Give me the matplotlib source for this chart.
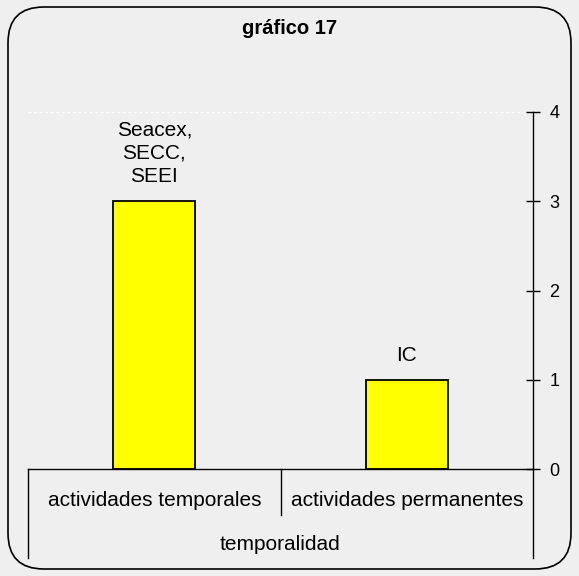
import matplotlib.pyplot as plt
from matplotlib.patches import FancyBboxPatch

plt.rcParams['font.family'] = ['Liberation Sans', 'DejaVu Sans']

categorias = ["actividades temporales", "actividades permanentes"]
valores = [3, 1]
etiquetas = ["Seacex,\nSECC,\nSEEI", "IC"]
grupo = "temporalidad"
titulo = "gráfico 17"

fig = plt.figure(figsize=(5.79, 5.76), dpi=100)
fig.patch.set_facecolor("#efefef")

# marco redondeado
W, H = 579, 576
marco = FancyBboxPatch((8 / W, 7 / H), 563 / W, 562 / H,
                       boxstyle="round,pad=0,rounding_size=0.062",
                       transform=fig.transFigure, facecolor="none",
                       edgecolor="black", linewidth=1.2)
fig.patches.append(marco)

ax = fig.add_axes([28 / W, 1 - 469 / H, 505 / W, (469 - 112) / H])
ax.set_facecolor("#efefef")
x = list(range(len(categorias)))
ax.bar(x, valores, width=0.325, color="#ffff00", edgecolor="black", linewidth=1.3)

px = 4 / (469 - 112)  # unidades de datos por pixel vertical
for xi, v, t in zip(x, valores, etiquetas):
    ax.text(xi, v + 15 * px, t, ha="center", va="bottom", fontsize=15, linespacing=1.3)

ax.set_xlim(-0.5, 1.5)
ax.set_ylim(0, 4)
ax.set_yticks([0, 1, 2, 3, 4])
ax.yaxis.tick_right()
ax.tick_params(axis="y", direction="inout", length=9.5, width=1, labelsize=13, pad=7)
ax.set_xticks([])
for s in ["top", "left"]:
    ax.spines[s].set_visible(False)
ax.spines["right"].set_linewidth(1)
ax.spines["bottom"].set_linewidth(1)
ax.axhline(4, xmax=0.985, color="white", linestyle=(0, (2, 2)), linewidth=1)

# tabla de categorias bajo el eje
fila1 = -46 * px
fila2 = -89 * px
ax.plot([-0.5, -0.5], [0, fila2], color="black", lw=1, clip_on=False)
ax.plot([1.5, 1.5], [0, fila2], color="black", lw=1, clip_on=False)
ax.plot([0.5, 0.5], [0, fila1], color="black", lw=1, clip_on=False)
for xi, c in zip(x, categorias):
    ax.text(xi, -32 * px, c, ha="center", va="center", fontsize=15)
ax.text(0.5, -75 * px, grupo, ha="center", va="center", fontsize=15)

fig.text(290 / W, 1 - 29 / H, titulo, ha="center", va="center",
         fontsize=14.5, fontweight="bold")

fig.savefig("out.png", dpi=100, facecolor=fig.get_facecolor())
